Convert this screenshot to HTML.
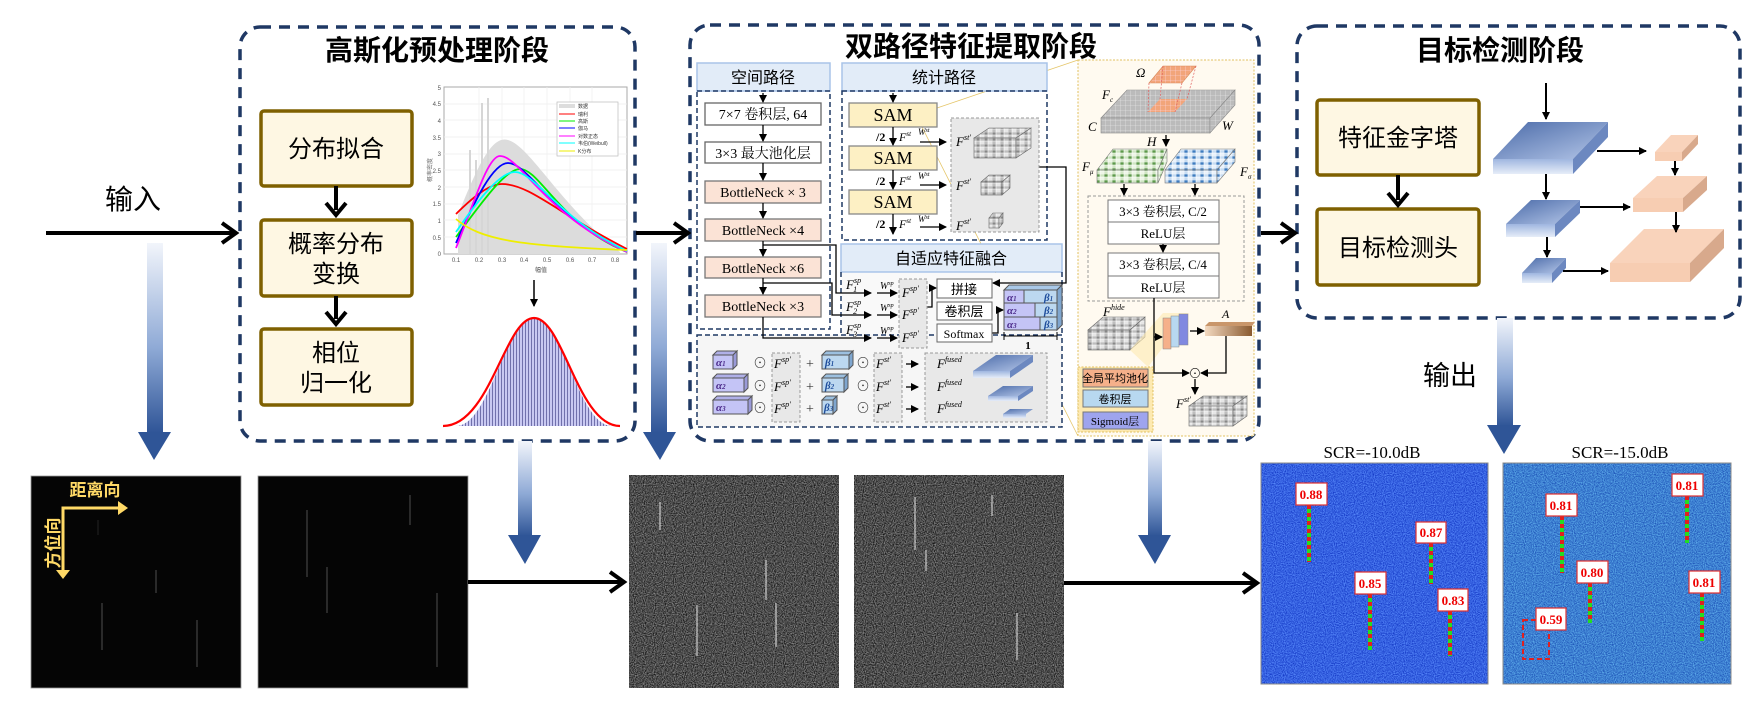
<!DOCTYPE html>
<html><head><meta charset="utf-8"><style>
html,body{margin:0;padding:0;background:#fff;}
svg{display:block;}
.cn{font-family:"Liberation Sans","Noto Sans CJK SC",sans-serif;}
.sf{font-family:"Liberation Serif","Noto Serif CJK SC",serif;}
</style></head><body>
<svg width="1760" height="708" viewBox="0 0 1760 708" xmlns="http://www.w3.org/2000/svg">
<defs>
<linearGradient id="garr" x1="0" y1="0" x2="0" y2="1"><stop offset="0" stop-color="#f2f5fb"/><stop offset="0.55" stop-color="#8faad6"/><stop offset="1" stop-color="#2f5597"/></linearGradient>
<linearGradient id="btop" x1="0" y1="0" x2="1" y2="1"><stop offset="0" stop-color="#4a6aa8"/><stop offset="1" stop-color="#b4c6e8"/></linearGradient>
<linearGradient id="bfront" x1="0" y1="0" x2="0" y2="1"><stop offset="0" stop-color="#9fb6e0"/><stop offset="1" stop-color="#e6edf8"/></linearGradient>
<linearGradient id="abr" x1="0" y1="0" x2="1" y2="0"><stop offset="0" stop-color="#f3d9c0"/><stop offset="1" stop-color="#8a5a30"/></linearGradient>
<pattern id="vox" width="8" height="6" patternUnits="userSpaceOnUse"><rect width="8" height="6" fill="#bdbdbd"/><rect width="4" height="3" fill="#888"/><rect x="4" y="3" width="4" height="3" fill="#e6e6e6"/><path d="M0 0H8M0 3H8M0 0V6M4 0V6" stroke="#fff" stroke-width="0.6"/></pattern>
<pattern id="gvox" width="8" height="6" patternUnits="userSpaceOnUse"><rect width="8" height="6" fill="#cfe5c2"/><rect width="4" height="3" fill="#5d9a4a"/><rect x="4" y="3" width="4" height="3" fill="#eef6e8"/><path d="M0 0H8M0 3H8M0 0V6M4 0V6" stroke="#fff" stroke-width="0.6"/></pattern>
<pattern id="svox" width="8" height="6" patternUnits="userSpaceOnUse"><rect width="8" height="6" fill="#c6dcf2"/><rect width="4" height="3" fill="#3e7cc0"/><rect x="4" y="3" width="4" height="3" fill="#eaf2fb"/><path d="M0 0H8M0 3H8M0 0V6M4 0V6" stroke="#fff" stroke-width="0.6"/></pattern>
<pattern id="grid" width="5" height="5" patternUnits="userSpaceOnUse"><rect width="5" height="5" fill="#bbb"/><path d="M0 0H5M0 0V5" stroke="#eee" stroke-width="0.6"/></pattern>
<pattern id="ogrid" width="5" height="5" patternUnits="userSpaceOnUse"><rect width="5" height="5" fill="#f2a57a"/><path d="M0 0H5M0 0V5" stroke="#fde" stroke-width="0.6"/></pattern>
<pattern id="hist" width="3" height="10" patternUnits="userSpaceOnUse"><rect width="3" height="10" fill="#c9c9f2"/><rect width="0.8" height="10" fill="#5b5b9a"/></pattern>
<filter id="ngrey" x="0" y="0" width="1" height="1" color-interpolation-filters="sRGB"><feTurbulence type="fractalNoise" baseFrequency="0.9" numOctaves="1" seed="3"/><feColorMatrix values="0.9 0 0 0 -0.15  0.9 0 0 0 -0.15  0.9 0 0 0 -0.15  0 0 0 0 1"/></filter>
<filter id="nblue1" x="0" y="0" width="1" height="1" color-interpolation-filters="sRGB"><feTurbulence type="fractalNoise" baseFrequency="0.9" numOctaves="1" seed="5"/><feColorMatrix values="0.5 0 0 0 -0.04  0.6 0 0 0 0.08  0.4 0 0 0 0.68  0 0 0 0 1"/></filter>
<filter id="nblue2" x="0" y="0" width="1" height="1" color-interpolation-filters="sRGB"><feTurbulence type="fractalNoise" baseFrequency="0.9" numOctaves="1" seed="8"/><feColorMatrix values="0.5 0 0 0 -0.01  0.7 0 0 0 0.15  0.4 0 0 0 0.62  0 0 0 0 1"/></filter>
<marker id="ah" markerWidth="8" markerHeight="8" refX="7" refY="4" orient="auto" markerUnits="userSpaceOnUse"><path d="M0,0 L8,4 L0,8 Z" fill="#000"/></marker>
</defs>

<!-- ============ big dashed boxes ============ -->
<rect x="240" y="27" width="395" height="414" rx="20" fill="none" stroke="#1f3864" stroke-width="3.5" stroke-dasharray="11,8"/>
<rect x="690" y="25" width="569" height="416" rx="20" fill="none" stroke="#1f3864" stroke-width="3.5" stroke-dasharray="11,8"/>
<rect x="1297" y="26" width="443" height="292" rx="20" fill="none" stroke="#1f3864" stroke-width="3.5" stroke-dasharray="11,8"/>

<text x="437" y="60" class="cn" font-size="28" font-weight="bold" text-anchor="middle">高斯化预处理阶段</text>
<text x="971" y="56" class="cn" font-size="28" font-weight="bold" text-anchor="middle">双路径特征提取阶段</text>
<text x="1500" y="60" class="cn" font-size="28" font-weight="bold" text-anchor="middle">目标检测阶段</text>

<!-- input -->
<text x="133" y="209" class="cn" font-size="28" text-anchor="middle">输入</text>
<line x1="46" y1="233" x2="234" y2="233" stroke="#000" stroke-width="4"/>
<polyline points="222,223 236,233 222,243" fill="none" stroke="#000" stroke-width="4"/>
<line x1="636" y1="233" x2="686" y2="233" stroke="#000" stroke-width="4"/>
<polyline points="674,223 688,233 674,243" fill="none" stroke="#000" stroke-width="4"/>
<line x1="1261" y1="233" x2="1293" y2="233" stroke="#000" stroke-width="4"/>
<polyline points="1281,223 1295,233 1281,243" fill="none" stroke="#000" stroke-width="4"/>

<!-- gradient arrows -->
<rect x="147" y="243" width="16" height="190" fill="url(#garr)"/><polygon points="138,432 171,432 154,460" fill="#2f5597"/>
<rect x="518" y="441" width="14" height="95" fill="url(#garr)"/><polygon points="508,535 541,535 525,564" fill="#2f5597"/>
<rect x="651" y="243" width="16" height="190" fill="url(#garr)"/><polygon points="643,432 676,432 660,460" fill="#2f5597"/>
<rect x="1148" y="441" width="14" height="95" fill="url(#garr)"/><polygon points="1138,535 1171,535 1155,564" fill="#2f5597"/>
<rect x="1497" y="318" width="16" height="108" fill="url(#garr)"/><polygon points="1487,425 1521,425 1504,454" fill="#2f5597"/>
<text x="1450" y="385" class="cn" font-size="27" text-anchor="middle">输出</text>

<!-- ============ Gaussian stage ============ -->
<g class="cn" font-size="24" text-anchor="middle">
<rect x="261" y="111" width="151" height="75" rx="3" fill="#fef7e3" stroke="#7f6000" stroke-width="3.5"/>
<text x="336" y="157">分布拟合</text>
<rect x="261" y="220" width="151" height="76" rx="3" fill="#fef7e3" stroke="#7f6000" stroke-width="3.5"/>
<text x="336" y="252">概率分布</text><text x="336" y="282">变换</text>
<rect x="261" y="329" width="151" height="76" rx="3" fill="#fef7e3" stroke="#7f6000" stroke-width="3.5"/>
<text x="336" y="361">相位</text><text x="336" y="391">归一化</text>
</g>
<line x1="336" y1="186" x2="336" y2="210" stroke="#000" stroke-width="4"/><polyline points="326,203 336,215 346,203" fill="none" stroke="#000" stroke-width="4"/>
<line x1="336" y1="296" x2="336" y2="319" stroke="#000" stroke-width="4"/><polyline points="326,312 336,324 346,312" fill="none" stroke="#000" stroke-width="4"/>

<!-- chart -->
<rect x="444" y="87" width="183" height="167" fill="#fff" stroke="#aaa" stroke-width="1"/>
<g stroke="#eee" stroke-width="0.7">
<line x1="444" y1="104" x2="627" y2="104"/><line x1="444" y1="120" x2="627" y2="120"/><line x1="444" y1="137" x2="627" y2="137"/><line x1="444" y1="154" x2="627" y2="154"/><line x1="444" y1="170" x2="627" y2="170"/><line x1="444" y1="187" x2="627" y2="187"/><line x1="444" y1="204" x2="627" y2="204"/><line x1="444" y1="220" x2="627" y2="220"/><line x1="444" y1="237" x2="627" y2="237"/>
<line x1="479" y1="87" x2="479" y2="254"/><line x1="502" y1="87" x2="502" y2="254"/><line x1="524" y1="87" x2="524" y2="254"/><line x1="547" y1="87" x2="547" y2="254"/><line x1="570" y1="87" x2="570" y2="254"/><line x1="592" y1="87" x2="592" y2="254"/>
</g>
<path d="M458,254 L458,215 C478,165 492,135 508,140 C530,146 560,205 620,252 L620,254 Z" fill="#dcdcdc"/>
<g stroke="#d6d6d6" stroke-width="2"><line x1="482" y1="254" x2="482" y2="103"/><line x1="488" y1="254" x2="488" y2="98"/><line x1="470" y1="254" x2="470" y2="150"/><line x1="476" y1="254" x2="476" y2="160"/></g>
<g fill="none" stroke-width="1.8">
<path d="M456,214 C475,195 490,184 502,184 C530,184 560,215 627,249" stroke="#f00"/>
<path d="M456,237 C480,205 505,169 520,169 C540,169 560,225 627,252" stroke="#0e0"/>
<path d="M456,243 C475,200 493,163 508,163 C528,163 550,215 627,251" stroke="#00f"/>
<path d="M456,248 C475,200 488,156 500,156 C520,156 545,215 627,252" stroke="#f0f"/>
<path d="M456,232 C478,200 500,172 515,172 C535,172 560,220 627,251" stroke="#0ff"/>
<path d="M456,219 C480,240 520,246 627,250" stroke="#ee0"/>
</g>
<rect x="557" y="102" width="61" height="54" fill="#fff" stroke="#bbb" stroke-width="0.7"/>
<g font-size="5" class="cn" fill="#333">
<rect x="559" y="104" width="16" height="4" fill="#ddd"/><text x="578" y="108">数据</text>
<line x1="559" y1="114" x2="575" y2="114" stroke="#f00"/><text x="578" y="116">瑞利</text>
<line x1="559" y1="121" x2="575" y2="121" stroke="#0e0"/><text x="578" y="123">高斯</text>
<line x1="559" y1="128" x2="575" y2="128" stroke="#00f"/><text x="578" y="130">伽马</text>
<line x1="559" y1="136" x2="575" y2="136" stroke="#f0f"/><text x="578" y="138">对数正态</text>
<line x1="559" y1="143" x2="575" y2="143" stroke="#0ff"/><text x="578" y="145">韦伯(Weibull)</text>
<line x1="559" y1="151" x2="575" y2="151" stroke="#ee0"/><text x="578" y="153">K分布</text>
</g>
<g font-size="6" class="cn" fill="#555" text-anchor="end">
<text x="441" y="90">5</text><text x="441" y="106">4.5</text><text x="441" y="123">4</text><text x="441" y="140">3.5</text><text x="441" y="156">3</text><text x="441" y="173">2.5</text><text x="441" y="190">2</text><text x="441" y="206">1.5</text><text x="441" y="223">1</text><text x="441" y="240">0.5</text><text x="441" y="256">0</text>
</g>
<g font-size="6" class="cn" fill="#555" text-anchor="middle">
<text x="456" y="262">0.1</text><text x="479" y="262">0.2</text><text x="502" y="262">0.3</text><text x="524" y="262">0.4</text><text x="547" y="262">0.5</text><text x="570" y="262">0.6</text><text x="592" y="262">0.7</text><text x="615" y="262">0.8</text>
<text x="541" y="272">幅值</text>
</g>
<text x="432" y="170" font-size="6" class="cn" fill="#777" transform="rotate(-90 432 170)" text-anchor="middle">概率密度</text>

<line x1="534" y1="280" x2="534" y2="306" stroke="#000" stroke-width="1.5" marker-end="url(#ah)"/>
<path d="M456,426 C490,426 505,318 534,318 C563,318 578,426 612,426 Z" fill="url(#hist)"/>
<path d="M443,426 C490,426 505,318 534,318 C563,318 578,426 620,426" fill="none" stroke="#f00" stroke-width="2.2"/>

<!-- ============ Dual stage ============ -->
<rect x="1078" y="60" width="176" height="376" fill="#fffaf0" stroke="#e0c060" stroke-width="1" stroke-dasharray="2,1.5"/>
<line x1="937" y1="108" x2="1078" y2="60" stroke="#e5c66a" stroke-width="0.8"/>
<line x1="922" y1="127" x2="1078" y2="436" stroke="#e5c66a" stroke-width="0.8"/>

<rect x="697" y="63" width="133" height="28" fill="#e2ecf8" stroke="#a9c4e8" stroke-width="1.5"/>
<text x="763" y="83" class="cn" font-size="16" text-anchor="middle">空间路径</text>
<rect x="842" y="63" width="205" height="28" fill="#e2ecf8" stroke="#a9c4e8" stroke-width="1.5"/>
<text x="944" y="83" class="cn" font-size="16" text-anchor="middle">统计路径</text>
<rect x="697" y="91" width="133" height="238" fill="none" stroke="#1f3864" stroke-width="1.5" stroke-dasharray="5,3"/>
<rect x="842" y="91" width="205" height="149" fill="none" stroke="#1f3864" stroke-width="1.5" stroke-dasharray="5,3"/>
<rect x="841" y="244" width="221" height="28" fill="#e2ecf8" stroke="#a9c4e8" stroke-width="1.5"/>
<text x="951" y="264" class="cn" font-size="16" text-anchor="middle">自适应特征融合</text>
<path d="M841,272 V333 M1062,272 V335" stroke="#1f3864" stroke-width="1.5" stroke-dasharray="5,3"/>
<rect x="842" y="273" width="219" height="62" fill="#f9f9f9"/>
<rect x="697" y="335" width="365" height="92" fill="#f6f6f6" stroke="#1f3864" stroke-width="1.5" stroke-dasharray="5,3"/>

<g class="sf" text-anchor="middle" font-size="14">
<rect x="705" y="103" width="116" height="22" fill="#fff" stroke="#666" stroke-width="1.3"/><text x="763" y="119">7×7 卷积层, 64</text>
<rect x="705" y="142" width="116" height="21" fill="#fff" stroke="#666" stroke-width="1.3"/><text x="763" y="158">3×3 最大池化层</text>
<rect x="705" y="181" width="116" height="22" fill="#fbe3d6" stroke="#777" stroke-width="1.3"/><text x="763" y="197">BottleNeck × 3</text>
<rect x="705" y="219" width="116" height="22" fill="#fbe3d6" stroke="#777" stroke-width="1.3"/><text x="763" y="235">BottleNeck ×4</text>
<rect x="705" y="257" width="116" height="21" fill="#fbe3d6" stroke="#777" stroke-width="1.3"/><text x="763" y="273">BottleNeck ×6</text>
<rect x="705" y="295" width="116" height="22" fill="#fbe3d6" stroke="#777" stroke-width="1.3"/><text x="763" y="311">BottleNeck ×3</text>
</g>
<g stroke="#000" stroke-width="1.3" fill="none">
<line x1="763" y1="93" x2="763" y2="102" marker-end="url(#ah)"/>
<line x1="763" y1="125" x2="763" y2="141" marker-end="url(#ah)"/>
<line x1="763" y1="163" x2="763" y2="180" marker-end="url(#ah)"/>
<line x1="763" y1="203" x2="763" y2="218" marker-end="url(#ah)"/>
<line x1="763" y1="241" x2="763" y2="256" marker-end="url(#ah)"/>
<line x1="763" y1="278" x2="763" y2="294" marker-end="url(#ah)"/>
<polyline points="763,245 836,245 836,293 871,293" marker-end="url(#ah)"/>
<polyline points="763,283 832,283 832,315 871,315" marker-end="url(#ah)"/>
<polyline points="763,317 763,338 871,338" marker-end="url(#ah)"/>
<line x1="877" y1="293" x2="897" y2="293" marker-end="url(#ah)"/>
<line x1="877" y1="315" x2="897" y2="315" marker-end="url(#ah)"/>
<line x1="877" y1="338" x2="897" y2="338" marker-end="url(#ah)"/>
<polyline points="927,307 932,307 932,288 936,288" marker-end="url(#ah)"/>
<polyline points="992,333 998,333 998,310 1003,310" marker-end="url(#ah)"/>
<polyline points="1039,167 1066,167 1066,283 993,283" marker-end="url(#ah)"/>
</g>
<g class="sf" font-style="italic" font-size="13">
<text x="846" y="289">F<tspan font-size="8" dy="-6">sp</tspan><tspan font-size="8" dx="-8" dy="9">1</tspan></text>
<text x="846" y="311">F<tspan font-size="8" dy="-6">sp</tspan><tspan font-size="8" dx="-8" dy="9">2</tspan></text>
<text x="846" y="334">F<tspan font-size="8" dy="-6">sp</tspan><tspan font-size="8" dx="-8" dy="9">3</tspan></text>
<text x="880" y="289" font-size="10">W<tspan font-size="6" dy="-4">sp</tspan></text>
<text x="880" y="311" font-size="10">W<tspan font-size="6" dy="-4">sp</tspan></text>
<text x="880" y="334" font-size="10">W<tspan font-size="6" dy="-4">sp</tspan></text>
</g>
<rect x="899" y="279" width="28" height="69" fill="#e8e8e8" stroke="#999" stroke-dasharray="3,2"/>
<g class="sf" font-style="italic" font-size="13">
<text x="902" y="297">F<tspan font-size="8" dy="-6">sp'</tspan></text>
<text x="902" y="319">F<tspan font-size="8" dy="-6">sp'</tspan></text>
<text x="902" y="342">F<tspan font-size="8" dy="-6">sp'</tspan></text>
</g>
<g text-anchor="middle">
<rect x="937" y="279" width="55" height="19" fill="#fff" stroke="#666"/><text x="964" y="294" class="cn" font-size="13">拼接</text>
<rect x="937" y="302" width="55" height="18" fill="#fff" stroke="#666"/><text x="964" y="316" class="cn" font-size="13">卷积层</text>
<rect x="937" y="324" width="55" height="18" fill="#fff" stroke="#666"/><text x="964" y="338" class="sf" font-size="12">Softmax</text>
</g>
<g stroke="#555" stroke-width="1">
<polygon points="1004,290 1009,285 1062,285 1057,290" fill="#a9c8e8"/>
<polygon points="1057,290 1062,285 1062,325 1057,330" fill="#7fa6cf"/>
<rect x="1004" y="290" width="20" height="13" fill="#c4c4f6"/><rect x="1024" y="290" width="33" height="13" fill="#bcd8f0"/>
<rect x="1004" y="303" width="31" height="14" fill="#c4c4f6"/><rect x="1035" y="303" width="22" height="14" fill="#bcd8f0"/>
<rect x="1004" y="317" width="36" height="13" fill="#c4c4f6"/><rect x="1040" y="317" width="17" height="13" fill="#bcd8f0"/>
</g>
<g class="sf" font-style="italic" font-weight="bold" font-size="11">
<text x="1007" y="301" fill="#4b2a8a">α<tspan font-size="7">1</tspan></text><text x="1044" y="301" fill="#1f4e9c">β<tspan font-size="7">1</tspan></text>
<text x="1007" y="314" fill="#4b2a8a">α<tspan font-size="7">2</tspan></text><text x="1044" y="314" fill="#1f4e9c">β<tspan font-size="7">2</tspan></text>
<text x="1007" y="328" fill="#4b2a8a">α<tspan font-size="7">3</tspan></text><text x="1044" y="328" fill="#1f4e9c">β<tspan font-size="7">3</tspan></text>
</g>
<path d="M1004,336 H1057 M1004,332 V340 M1057,332 V340" stroke="#000" stroke-width="1"/>
<text x="1028" y="349" class="sf" font-weight="bold" font-size="11" text-anchor="middle">1</text>

<g stroke="#555" stroke-width="1">
<rect x="713" y="355" width="20" height="14" fill="#c4c4f6"/><polygon points="713,355 717,351 737,351 733,355" fill="#b0b0e8"/><polygon points="733,355 737,351 737,365 733,369" fill="#9a9ad8"/>
<rect x="713" y="378" width="31" height="14" fill="#c4c4f6"/><polygon points="713,378 717,374 748,374 744,378" fill="#b0b0e8"/><polygon points="744,378 748,374 748,388 744,392" fill="#9a9ad8"/>
<rect x="713" y="400" width="35" height="14" fill="#c4c4f6"/><polygon points="713,400 717,396 752,396 748,400" fill="#b0b0e8"/><polygon points="748,400 752,396 752,410 748,414" fill="#9a9ad8"/>
<rect x="822" y="355" width="27" height="14" fill="#bcd8f0"/><polygon points="822,355 826,351 853,351 849,355" fill="#9cc0e0"/><polygon points="849,355 853,351 853,365 849,369" fill="#7fa6cf"/>
<rect x="822" y="378" width="22" height="14" fill="#bcd8f0"/><polygon points="822,378 826,374 848,374 844,378" fill="#9cc0e0"/><polygon points="844,378 848,374 848,388 844,392" fill="#7fa6cf"/>
<rect x="822" y="400" width="11" height="14" fill="#bcd8f0"/><polygon points="822,400 826,396 837,396 833,400" fill="#9cc0e0"/><polygon points="833,400 837,396 837,410 833,414" fill="#7fa6cf"/>
</g>
<g class="sf" font-style="italic" font-weight="bold" font-size="11">
<text x="716" y="366" fill="#4b2a8a">α<tspan font-size="7">1</tspan></text><text x="716" y="389" fill="#4b2a8a">α<tspan font-size="7">2</tspan></text><text x="716" y="411" fill="#4b2a8a">α<tspan font-size="7">3</tspan></text>
<text x="825" y="366" fill="#1f4e9c">β<tspan font-size="7">1</tspan></text><text x="825" y="389" fill="#1f4e9c">β<tspan font-size="7">2</tspan></text><text x="824" y="411" fill="#1f4e9c">β<tspan font-size="7">3</tspan></text>
</g>
<rect x="772" y="353" width="28" height="69" fill="#e8e8e8" stroke="#999" stroke-dasharray="3,2"/>
<rect x="874" y="353" width="28" height="69" fill="#e8e8e8" stroke="#999" stroke-dasharray="3,2"/>
<rect x="925" y="353" width="122" height="69" fill="#e8e8e8" stroke="#999" stroke-dasharray="3,2"/>
<g class="sf" font-size="14" fill="#333" text-anchor="middle">
<text x="760" y="368">⊙</text><text x="760" y="391">⊙</text><text x="760" y="413">⊙</text>
<text x="810" y="368">+</text><text x="810" y="391">+</text><text x="810" y="413">+</text>
<text x="863" y="368">⊙</text><text x="863" y="391">⊙</text><text x="863" y="413">⊙</text>
</g>
<g class="sf" font-style="italic" font-size="13">
<text x="774" y="368">F<tspan font-size="8" dy="-6">sp'</tspan></text><text x="774" y="391">F<tspan font-size="8" dy="-6">sp'</tspan></text><text x="774" y="413">F<tspan font-size="8" dy="-6">sp'</tspan></text>
<text x="876" y="368">F<tspan font-size="8" dy="-6">st'</tspan></text><text x="876" y="391">F<tspan font-size="8" dy="-6">st'</tspan></text><text x="876" y="413">F<tspan font-size="8" dy="-6">st'</tspan></text>
<text x="937" y="368">F<tspan font-size="8" dy="-6">fused</tspan></text><text x="937" y="391">F<tspan font-size="8" dy="-6">fused</tspan></text><text x="937" y="413">F<tspan font-size="8" dy="-6">fused</tspan></text>
</g>
<g stroke="#000" stroke-width="1.3"><line x1="906" y1="364" x2="918" y2="364" marker-end="url(#ah)"/><line x1="906" y1="387" x2="918" y2="387" marker-end="url(#ah)"/><line x1="906" y1="409" x2="918" y2="409" marker-end="url(#ah)"/></g>
<g>
<polygon points="973,371 996,355 1033,355 1010,371" fill="url(#btop)"/><rect x="973" y="371" width="37" height="7" fill="url(#bfront)"/><polygon points="1010,371 1033,355 1033,362 1010,378" fill="#6c88c0"/>
<polygon points="988,396 1003,386 1033,386 1018,396" fill="url(#btop)"/><rect x="988" y="396" width="30" height="5" fill="url(#bfront)"/><polygon points="1018,396 1033,386 1033,391 1018,401" fill="#6c88c0"/>
<polygon points="1003,414 1010,409 1033,409 1026,414" fill="url(#btop)"/><rect x="1003" y="414" width="23" height="4" fill="url(#bfront)"/>
</g>

<g class="sf" text-anchor="middle" font-size="18">
<rect x="849" y="103" width="88" height="24" fill="#fdf0c4" stroke="#888" stroke-width="1.3"/><text x="893" y="121">SAM</text>
<rect x="849" y="146" width="88" height="24" fill="#fdf0c4" stroke="#888" stroke-width="1.3"/><text x="893" y="164">SAM</text>
<rect x="849" y="190" width="88" height="24" fill="#fdf0c4" stroke="#888" stroke-width="1.3"/><text x="893" y="208">SAM</text>
</g>
<g stroke="#000" stroke-width="1.3">
<line x1="893" y1="93" x2="893" y2="102" marker-end="url(#ah)"/>
<line x1="893" y1="127" x2="893" y2="145" marker-end="url(#ah)"/>
<line x1="893" y1="170" x2="893" y2="189" marker-end="url(#ah)"/>
<line x1="893" y1="214" x2="893" y2="234" marker-end="url(#ah)"/>
<line x1="920" y1="142" x2="946" y2="142" marker-end="url(#ah)"/>
<line x1="920" y1="185" x2="946" y2="185" marker-end="url(#ah)"/>
<line x1="920" y1="227" x2="946" y2="227" marker-end="url(#ah)"/>
</g>
<g class="sf" font-size="12" font-weight="bold"><text x="876" y="141">/2</text><text x="876" y="185">/2</text><text x="876" y="228">/2</text></g>
<g class="sf" font-style="italic" font-size="12">
<text x="899" y="141">F<tspan font-size="7" dy="-5">st</tspan></text><text x="918" y="135" font-size="9">W<tspan font-size="6" dy="-3">st</tspan></text>
<text x="899" y="185">F<tspan font-size="7" dy="-5">st</tspan></text><text x="918" y="179" font-size="9">W<tspan font-size="6" dy="-3">st</tspan></text>
<text x="899" y="228">F<tspan font-size="7" dy="-5">st</tspan></text><text x="918" y="222" font-size="9">W<tspan font-size="6" dy="-3">st</tspan></text>
</g>
<rect x="951" y="118" width="88" height="114" fill="#e8e8e8" stroke="#999" stroke-dasharray="3,2"/>
<g class="sf" font-style="italic" font-size="13">
<text x="956" y="146">F<tspan font-size="8" dy="-6">st'</tspan></text><text x="956" y="190">F<tspan font-size="8" dy="-6">st'</tspan></text><text x="956" y="230">F<tspan font-size="8" dy="-6">st'</tspan></text>
</g>
<g stroke="#666" stroke-width="0.6">
<polygon points="974,138 989,128 1031,128 1016,138" fill="url(#vox)"/><rect x="974" y="138" width="42" height="20" fill="url(#vox)"/><polygon points="1016,138 1031,128 1031,148 1016,158" fill="url(#vox)"/>
<polygon points="981,182 989,175 1010,175 1002,182" fill="url(#vox)"/><rect x="981" y="182" width="21" height="13" fill="url(#vox)"/><polygon points="1002,182 1010,175 1010,188 1002,195" fill="url(#vox)"/>
<polygon points="989,218 993,213 1003,213 999,218" fill="url(#vox)"/><rect x="989" y="218" width="10" height="10" fill="url(#vox)"/><polygon points="999,218 1003,213 1003,223 999,228" fill="url(#vox)"/>
</g>

<text x="1136" y="77" class="sf" font-style="italic" font-size="13">Ω</text>
<polygon points="1149,83 1163,66 1196,66 1182,83" fill="url(#ogrid)" stroke="#d98a5a" stroke-width="0.6"/>
<polygon points="1101,118 1127,90 1235,90 1210,118" fill="url(#grid)" stroke="#888" stroke-width="0.6"/>
<rect x="1101" y="118" width="109" height="15" fill="url(#grid)" stroke="#888" stroke-width="0.6"/>
<polygon points="1210,118 1235,90 1235,105 1210,133" fill="url(#grid)" stroke="#888" stroke-width="0.6"/>
<polygon points="1148,112 1160,99 1187,99 1175,112" fill="url(#ogrid)"/>
<g stroke="#e06060" stroke-width="0.7" stroke-dasharray="2,1.5"><line x1="1149" y1="83" x2="1148" y2="112"/><line x1="1182" y1="83" x2="1175" y2="112"/><line x1="1196" y1="66" x2="1187" y2="99"/><line x1="1163" y1="66" x2="1160" y2="99"/></g>
<g class="sf" font-style="italic" font-size="13">
<text x="1102" y="99">F<tspan font-size="7" dy="3">c</tspan></text>
<text x="1088" y="131">C</text><text x="1222" y="130">W</text>
<text x="1147" y="146">H</text>
<text x="1082" y="171">F<tspan font-size="7" dy="3">μ</tspan></text>
<text x="1240" y="176">F<tspan font-size="7" dy="3">σ</tspan></text>
</g>
<line x1="1166" y1="135" x2="1166" y2="146" stroke="#000" stroke-width="1.3" marker-end="url(#ah)"/>
<g stroke="#777" stroke-width="0.6">
<polygon points="1097,170 1113,149 1167,149 1158,170" fill="url(#gvox)"/><rect x="1097" y="170" width="61" height="13" fill="url(#gvox)"/><polygon points="1158,170 1167,149 1167,162 1158,183" fill="url(#gvox)"/>
<polygon points="1165,170 1181,149 1235,149 1217,170" fill="url(#svox)"/><rect x="1165" y="170" width="52" height="13" fill="url(#svox)"/><polygon points="1217,170 1235,149 1235,162 1217,183" fill="url(#svox)"/>
</g>
<g stroke="#000" stroke-width="1.3"><line x1="1124" y1="184" x2="1124" y2="195" marker-end="url(#ah)"/><line x1="1195" y1="184" x2="1195" y2="195" marker-end="url(#ah)"/></g>
<rect x="1088" y="196" width="156" height="105" fill="none" stroke="#999" stroke-dasharray="3,2"/>
<g class="sf" font-size="13" text-anchor="middle">
<rect x="1108" y="200" width="111" height="22" fill="#fff" stroke="#777"/><text x="1163" y="216">3×3 卷积层, C/2</text>
<rect x="1108" y="222" width="111" height="22" fill="#fff" stroke="#777"/><text x="1163" y="238">ReLU层</text>
<rect x="1108" y="253" width="111" height="23" fill="#fff" stroke="#777"/><text x="1163" y="269">3×3 卷积层, C/4</text>
<rect x="1108" y="276" width="111" height="22" fill="#fff" stroke="#777"/><text x="1163" y="292">ReLU层</text>
</g>
<line x1="1163" y1="244" x2="1163" y2="252" stroke="#000" stroke-width="1.2" marker-end="url(#ah)"/>
<text x="1103" y="316" class="sf" font-style="italic" font-size="13">F<tspan font-size="8" dy="-6">hide</tspan></text>
<g stroke="#666" stroke-width="0.6">
<polygon points="1088,330 1103,317 1145,317 1130,330" fill="url(#vox)"/><rect x="1088" y="330" width="42" height="20" fill="url(#vox)"/><polygon points="1130,330 1145,317 1145,337 1130,350" fill="url(#vox)"/>
</g>
<polygon points="1130,350 1163,313 1189,313 1148,367" fill="#fde9b0" opacity="0.6"/>
<g stroke="#000" stroke-width="1.3" fill="none">
<polyline points="1154,298 1154,373 1189,373" marker-end="url(#ah)"/>
<line x1="1154" y1="337" x2="1162" y2="337" marker-end="url(#ah)"/>
<line x1="1190" y1="331" x2="1204" y2="331" marker-end="url(#ah)"/>
<polyline points="1226,336 1226,373 1201,373" marker-end="url(#ah)"/>
<line x1="1195" y1="379" x2="1195" y2="394" marker-end="url(#ah)"/>
</g>
<rect x="1163" y="318" width="8" height="31" fill="#f5b08a" stroke="#888" stroke-width="0.5"/>
<rect x="1171" y="316" width="8" height="31" fill="#b8d8f0" stroke="#888" stroke-width="0.5"/>
<rect x="1179" y="314" width="9" height="31" fill="#8088e0" stroke="#888" stroke-width="0.5"/>
<polygon points="1205,326 1209,322 1255,322 1252,326" fill="#c9966a"/>
<rect x="1205" y="326" width="47" height="10" fill="url(#abr)"/>
<text x="1222" y="318" class="sf" font-style="italic" font-size="12">A</text>
<text x="1195" y="378" class="sf" font-size="13" text-anchor="middle">⊙</text>
<text x="1176" y="408" class="sf" font-style="italic" font-size="13">F<tspan font-size="8" dy="-6">st'</tspan></text>
<g stroke="#666" stroke-width="0.6">
<polygon points="1189,406 1203,396 1247,396 1233,406" fill="url(#vox)"/><rect x="1189" y="406" width="44" height="20" fill="url(#vox)"/><polygon points="1233,406 1247,396 1247,416 1233,426" fill="url(#vox)"/>
</g>
<rect x="1078" y="367" width="75" height="65" fill="#fde9b0" stroke="#e0c060" stroke-dasharray="2,1.5"/>
<g class="cn" font-size="11" text-anchor="middle">
<rect x="1083" y="369" width="65" height="18" fill="#f5b08a" stroke="#777"/><text x="1115" y="382">全局平均池化</text>
<rect x="1083" y="390" width="65" height="17" fill="#b8d8f0" stroke="#777"/><text x="1115" y="403">卷积层</text>
<rect x="1083" y="412" width="65" height="17" fill="#9ea4ee" stroke="#777"/><text x="1115" y="425" class="sf">Sigmoid层</text>
</g>

<!-- ============ Target stage ============ -->
<g class="cn" font-size="24" text-anchor="middle">
<rect x="1317" y="100" width="162" height="75" rx="3" fill="#fef7e3" stroke="#7f6000" stroke-width="3.5"/>
<text x="1398" y="146">特征金字塔</text>
<rect x="1317" y="209" width="162" height="76" rx="3" fill="#fef7e3" stroke="#7f6000" stroke-width="3.5"/>
<text x="1398" y="256">目标检测头</text>
</g>
<line x1="1398" y1="175" x2="1398" y2="200" stroke="#000" stroke-width="4"/><polyline points="1388,193 1398,205 1408,193" fill="none" stroke="#000" stroke-width="4"/>
<polygon points="1493,159 1528,122 1608,122 1573,159" fill="url(#btop)"/><rect x="1493" y="159" width="80" height="15" fill="url(#bfront)"/><polygon points="1573,159 1608,122 1608,137 1573,174" fill="#6c88c0"/>
<polygon points="1506,224 1531,200 1580,200 1555,224" fill="url(#btop)"/><rect x="1506" y="224" width="49" height="13" fill="url(#bfront)"/><polygon points="1555,224 1580,200 1580,213 1555,237" fill="#6c88c0"/>
<polygon points="1522,273 1536,258 1566,258 1552,273" fill="url(#btop)"/><rect x="1522" y="273" width="30" height="10" fill="url(#bfront)"/><polygon points="1552,273 1566,258 1566,268 1552,283" fill="#6c88c0"/>
<polygon points="1655,152 1671,135 1698,135 1682,152" fill="#f9d3bb"/><rect x="1655" y="152" width="27" height="9" fill="#f7cdb2"/><polygon points="1682,152 1698,135 1698,144 1682,161" fill="#d8a98c"/>
<polygon points="1633,198 1657,176 1707,176 1683,198" fill="#f9d3bb"/><rect x="1633" y="198" width="50" height="14" fill="#f7cdb2"/><polygon points="1683,198 1707,176 1707,190 1683,212" fill="#d8a98c"/>
<polygon points="1610,263 1644,229 1724,229 1690,263" fill="#f9d3bb"/><rect x="1610" y="263" width="80" height="19" fill="#f7cdb2"/><polygon points="1690,263 1724,229 1724,248 1690,282" fill="#d8a98c"/>
<g stroke="#000" stroke-width="2">
<line x1="1546" y1="83" x2="1546" y2="119" marker-end="url(#ah)"/>
<line x1="1546" y1="174" x2="1546" y2="199" marker-end="url(#ah)"/>
<line x1="1547" y1="237" x2="1547" y2="257" marker-end="url(#ah)"/>
<line x1="1597" y1="151" x2="1646" y2="151" marker-end="url(#ah)"/>
<line x1="1580" y1="207" x2="1630" y2="207" marker-end="url(#ah)"/>
<line x1="1563" y1="271" x2="1608" y2="271" marker-end="url(#ah)"/>
<line x1="1675" y1="161" x2="1675" y2="175" marker-end="url(#ah)"/>
<line x1="1676" y1="212" x2="1676" y2="232" marker-end="url(#ah)"/>
</g>

<!-- ============ bottom images ============ -->
<rect x="31" y="476" width="210" height="212" fill="#050505" stroke="#999" stroke-width="0.8"/>
<rect x="258" y="476" width="210" height="212" fill="#050505" stroke="#999" stroke-width="0.8"/>
<g stroke="#ddd" stroke-width="1" opacity="0.35">
<line x1="156" y1="570" x2="156" y2="593"/><line x1="102" y1="603" x2="102" y2="650"/><line x1="197" y1="620" x2="197" y2="667"/><line x1="98" y1="520" x2="98" y2="535" opacity="0.4"/>
<line x1="307" y1="510" x2="307" y2="577"/><line x1="410" y1="495" x2="410" y2="525"/><line x1="327" y1="567" x2="327" y2="613"/><line x1="437" y1="593" x2="437" y2="667"/>
</g>
<text x="95" y="496" class="cn" font-size="17" font-weight="bold" fill="#ffd966" text-anchor="middle">距离向</text>
<polyline points="63,577 63,508 122,508" fill="none" stroke="#ffd966" stroke-width="3"/>
<polygon points="118,501 128,508 118,515" fill="#ffd966"/><polygon points="56,570 63,579 70,570" fill="#ffd966"/>
<text x="53" y="543" class="cn" font-size="17" font-weight="bold" fill="#ffd966" text-anchor="middle" transform="rotate(-90 53 543)" dy="6">方位向</text>
<line x1="468" y1="582" x2="622" y2="582" stroke="#000" stroke-width="4"/><polyline points="610,572 624,582 610,592" fill="none" stroke="#000" stroke-width="4"/>

<rect x="629" y="475" width="210" height="213" filter="url(#ngrey)"/>
<rect x="854" y="475" width="210" height="213" filter="url(#ngrey)"/>
<g stroke="#ccc" stroke-width="1.2">
<line x1="660" y1="502" x2="660" y2="530"/><line x1="766" y1="560" x2="766" y2="600"/><line x1="697" y1="605" x2="697" y2="656"/><line x1="776" y1="603" x2="776" y2="647"/>
<line x1="915" y1="497" x2="915" y2="550"/><line x1="992" y1="495" x2="992" y2="516"/><line x1="926" y1="550" x2="926" y2="571"/><line x1="1017" y1="613" x2="1017" y2="660"/>
</g>
<line x1="1064" y1="583" x2="1255" y2="583" stroke="#000" stroke-width="4"/><polyline points="1243,573 1257,583 1243,593" fill="none" stroke="#000" stroke-width="4"/>

<text x="1372" y="458" class="sf" font-size="17" text-anchor="middle">SCR=-10.0dB</text>
<text x="1620" y="458" class="sf" font-size="17" text-anchor="middle">SCR=-15.0dB</text>
<rect x="1261" y="463" width="227" height="221" filter="url(#nblue1)"/>
<rect x="1503" y="463" width="228" height="221" filter="url(#nblue2)"/>
<rect x="1261" y="463" width="227" height="221" fill="none" stroke="#888"/>
<rect x="1503" y="463" width="228" height="221" fill="none" stroke="#888"/>
<g stroke-width="4">
<g stroke="#22dd22"><line x1="1309" y1="505" x2="1309" y2="562"/><line x1="1431" y1="543" x2="1431" y2="584"/><line x1="1370" y1="594" x2="1370" y2="650"/><line x1="1450" y1="611" x2="1450" y2="656"/><line x1="1562" y1="516" x2="1562" y2="573"/><line x1="1687" y1="496" x2="1687" y2="543"/><line x1="1590" y1="583" x2="1590" y2="623"/><line x1="1702" y1="593" x2="1702" y2="641"/></g>
<g stroke="#e02020" stroke-dasharray="4,4"><line x1="1309" y1="505" x2="1309" y2="562"/><line x1="1431" y1="543" x2="1431" y2="584"/><line x1="1370" y1="594" x2="1370" y2="650"/><line x1="1450" y1="611" x2="1450" y2="656"/><line x1="1562" y1="516" x2="1562" y2="573"/><line x1="1687" y1="496" x2="1687" y2="543"/><line x1="1590" y1="583" x2="1590" y2="623"/><line x1="1702" y1="593" x2="1702" y2="641"/></g>
</g>
<rect x="1523" y="620" width="26" height="39" fill="none" stroke="#e02020" stroke-width="2" stroke-dasharray="5,3"/>
<g class="sf" font-size="13" font-weight="bold" fill="#e00" text-anchor="middle">
<rect x="1296" y="483" width="31" height="22" fill="#fff" stroke="#e03030" stroke-width="1.2"/><text x="1311" y="499">0.88</text>
<rect x="1416" y="522" width="30" height="21" fill="#fff" stroke="#e03030" stroke-width="1.2"/><text x="1431" y="537">0.87</text>
<rect x="1355" y="572" width="31" height="22" fill="#fff" stroke="#e03030" stroke-width="1.2"/><text x="1370" y="588">0.85</text>
<rect x="1438" y="589" width="30" height="22" fill="#fff" stroke="#e03030" stroke-width="1.2"/><text x="1453" y="605">0.83</text>
<rect x="1546" y="494" width="31" height="22" fill="#fff" stroke="#e03030" stroke-width="1.2"/><text x="1561" y="510">0.81</text>
<rect x="1672" y="474" width="31" height="22" fill="#fff" stroke="#e03030" stroke-width="1.2"/><text x="1687" y="490">0.81</text>
<rect x="1577" y="561" width="31" height="22" fill="#fff" stroke="#e03030" stroke-width="1.2"/><text x="1592" y="577">0.80</text>
<rect x="1689" y="571" width="31" height="22" fill="#fff" stroke="#e03030" stroke-width="1.2"/><text x="1704" y="587">0.81</text>
<rect x="1536" y="608" width="30" height="22" fill="#fff" stroke="#e03030" stroke-width="1.2"/><text x="1551" y="624">0.59</text>
</g>
</svg>
</body></html>
